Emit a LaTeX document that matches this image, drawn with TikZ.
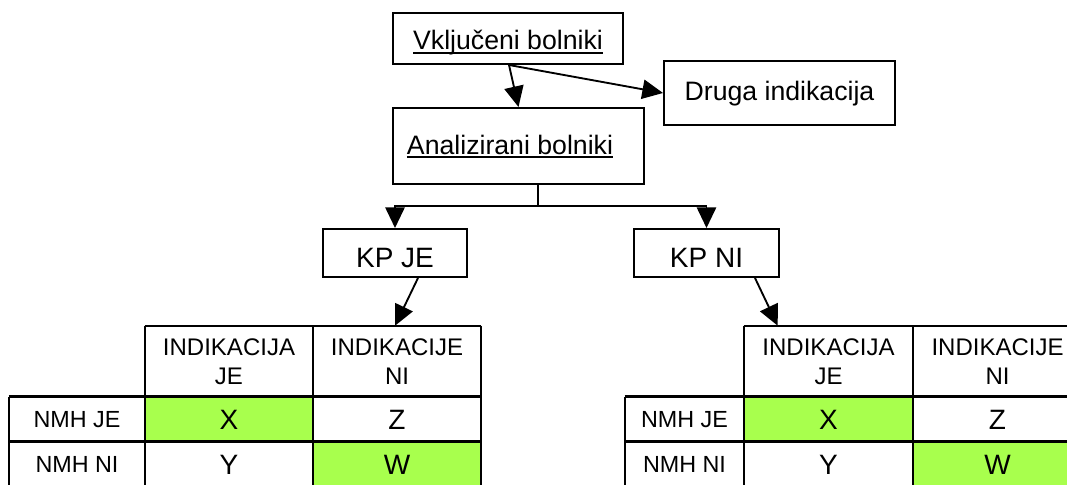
\documentclass[tikz,border=0pt]{standalone}
\usepackage{fontspec}
\setmainfont{Liberation Sans}
\usetikzlibrary{arrows.meta,calc}
\definecolor{cellgreen}{RGB}{168,255,77}
\newcommand\myul[1]{{\setbox0\hbox{#1}\rlap{\rule[-2.7pt]{\wd0}{1.4pt}}\box0}}
\tikzset{
  box/.style={draw, line width=1.5pt, inner sep=0pt, fill=white},
  lbl/.style={font=\fontsize{20}{24}\selectfont, inner sep=0pt, anchor=base},
  kplbl/.style={font=\fontsize{21}{25}\selectfont, inner sep=0pt, anchor=base},
  conn/.style={line width=1.4pt},
  arr/.style={conn, -{Triangle[length=15.5pt,width=14.5pt]}},
  cell/.style={inner sep=0pt, align=center, font=\fontsize{18}{21.75}\selectfont},
  valcell/.style={cell, font=\fontsize{21}{25}\selectfont},
  rowcell/.style={cell, font=\fontsize{17.5}{21}\selectfont},
  greencell/.style={valcell, fill=cellgreen},
  tline/.style={line width=1.6pt},
  topline/.style={line width=1.2pt},
  rline/.style={line width=2pt},
}
% table: #1 prefix, #2..#5 column x positions
\newcommand\mytab[5]{%
  \node[cell, minimum width={(#4-#3)*0.75pt}, minimum height={71*0.75pt}] (#1h1) at ({(#3+#4)/2},361.5) {INDIKACIJA\\JE};
  \node[cell, minimum width={(#5-#4)*0.75pt}, minimum height={71*0.75pt}] (#1h2) at ({(#4+#5)/2},361.5) {INDIKACIJE\\NI};
  \node[rowcell, minimum width={(#3-#2)*0.75pt}, minimum height={45*0.75pt}] (#1r1) at ({(#2+#3)/2},419.5) {NMH JE};
  \node[greencell, minimum width={(#4-#3)*0.75pt}, minimum height={45*0.75pt}] (#1c11) at ({(#3+#4)/2},419.5) {X};
  \node[valcell, minimum width={(#5-#4)*0.75pt}, minimum height={45*0.75pt}] (#1c12) at ({(#4+#5)/2},419.5) {Z};
  \node[rowcell, minimum width={(#3-#2)*0.75pt}, minimum height={45*0.75pt}] (#1r2) at ({(#2+#3)/2},464.5) {NMH NI};
  \node[valcell, minimum width={(#4-#3)*0.75pt}, minimum height={45*0.75pt}] (#1c21) at ({(#3+#4)/2},464.5) {Y};
  \node[greencell, minimum width={(#5-#4)*0.75pt}, minimum height={45*0.75pt}] (#1c22) at ({(#4+#5)/2},464.5) {W};
  \draw[topline] (#1h1.north west) -- (#1h2.north east);
  \draw[tline] (#1h1.north west) -- (#1c21.south west);
  \draw[tline] (#1h2.north west) -- (#1c22.south west);
  \draw[tline] (#1h2.north east) -- (#1c22.south east);
  \draw[tline] (#1r1.north west) -- (#1r2.south west);
  \draw[rline] (#1r1.north west) -- (#1c12.north east);
  \draw[rline] (#1r2.north west) -- (#1c22.north east);
}
\begin{document}
\begin{tikzpicture}[x=0.75pt,y=-0.75pt]
\useasboundingbox (0,0) rectangle (1067,485);
\fill[white] (0,0) rectangle (1067,485);

% boxes
\node[box, minimum width=172.5pt, minimum height=38.25pt] (v) at (508,38.5) {};
\node[lbl] (vt) at (508,50) {\myul{Vključeni bolniki}};
\node[box, minimum width=173.25pt, minimum height=48pt] (d) at (779.5,93) {};
\node[lbl] (dt) at (779.5,100) {Druga indikacija};
\node[box, minimum width=188.25pt, minimum height=57pt] (a) at (518.5,146) {};
\node[lbl] (at) at (510,154) {\myul{Analizirani bolniki}};
\node[box, minimum width=108pt, minimum height=36pt] (kpje) at (395,253) {};
\node[kplbl] (kpjet) at (395,267) {KP JE};
\node[box, minimum width=108.75pt, minimum height=36pt] (kpni) at (706.5,253) {};
\node[kplbl] (kpnit) at (706.5,267) {KP NI};

% tables
\mytab{L}{9}{145}{313}{481}
\mytab{R}{625}{744}{913}{1082}

% connectors
\coordinate (vs) at ($(v.south)+(1,0)$);
\draw[arr] (vs) -- (a.north);
\draw[arr] (vs) -- (d.west);
\coordinate (j) at (538,206);
\draw[conn] (a.south -| j) -- (j);
\draw[arr] (j) -| (kpje.north);
\draw[arr] (j) -| (kpni.north);
\draw[arr] ($(kpje.south)+(23,0)$) -- ($(Lh2.north)+(-2,0)$);
\draw[arr] ($(kpni.south)+(48.5,0)$) -- ($(Rh1.north west)+(34,0)$);
\end{tikzpicture}
\end{document}
